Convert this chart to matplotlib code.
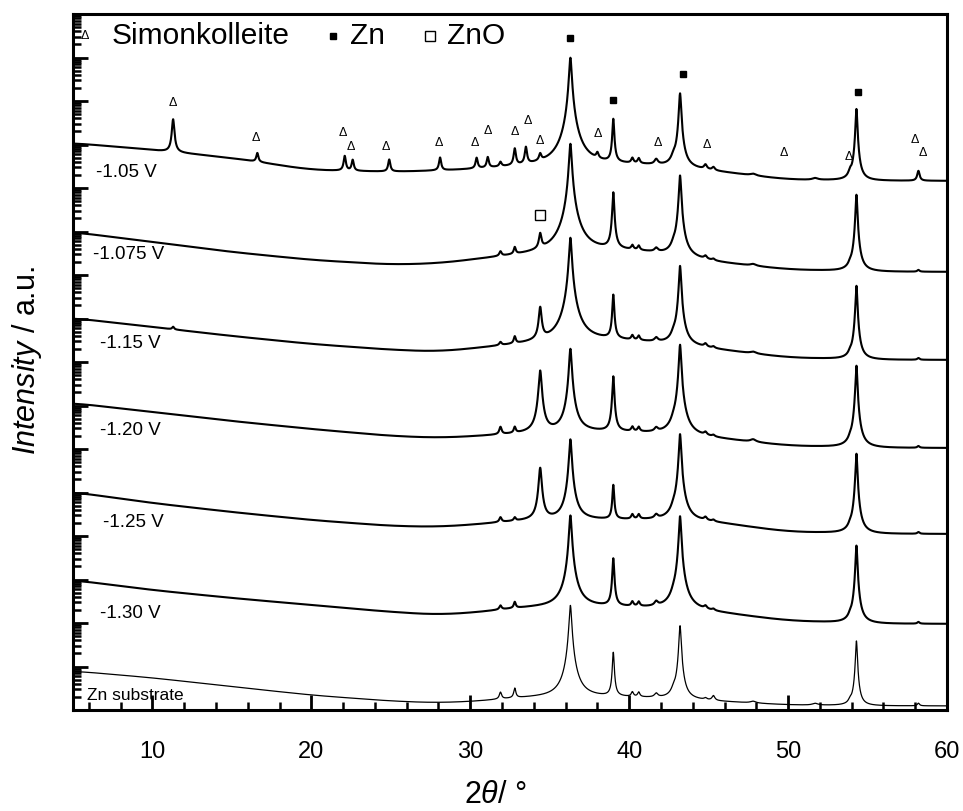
import numpy as np
import matplotlib
matplotlib.use("Agg")
import matplotlib.pyplot as plt
from matplotlib.ticker import LogLocator, MultipleLocator, NullFormatter

plt.rcParams['font.family'] = ['Liberation Sans', 'DejaVu Sans']
plt.rcParams['mathtext.fontset'] = 'custom'
plt.rcParams['mathtext.rm'] = 'Liberation Sans'
plt.rcParams['mathtext.it'] = 'Liberation Sans:italic'

# samples, top to bottom, each shifted by two decades
labels = ['-1.05 V', '-1.075 V', '-1.15 V', '-1.20 V', '-1.25 V', '-1.30 V', 'Zn substrate']
shift = [1e12, 1e10, 1e8, 1e6, 1e4, 1e2, 1e0]

# background counts read at these angles
bg_angle = [5, 10, 15, 20, 25, 28, 31, 33, 38, 41, 45, 50, 55, 60]
bg_105 = [1082, 748, 490, 259, 233, 246, 273, 304, 338, 338, 246, 153, 145, 145]
bg_1075 = [974, 574, 338, 221, 170, 179, 233, 273, 356, 338, 199, 130, 117, 117]
bg_115 = [1026, 638, 396, 259, 189, 170, 210, 246, 320, 288, 199, 124, 111, 111]
bg_120 = [1141, 709, 440, 288, 199, 179, 199, 221, 246, 233, 179, 117, 105, 105]
bg_125 = [1026, 574, 356, 233, 170, 161, 189, 221, 233, 233, 210, 124, 111, 111]
bg_130 = [974, 574, 376, 259, 179, 153, 179, 221, 233, 221, 179, 111, 95, 95]
bg_zn = [790, 550, 345, 220, 160, 145, 161, 189, 199, 189, 161, 130, 124, 124]

# reflections: position (2theta), half width, and peak/background ratio per sample
pk_pos = [11.3, 16.6, 22.1, 22.6, 24.9, 28.1, 30.4, 31.1, 31.9, 32.8, 33.5, 34.4, 36.3, 38.0,
          39.0, 40.2, 40.6, 41.7, 42.8, 43.2, 44.8, 45.3, 47.8, 51.7, 53.9, 54.3, 58.2]
pk_hw = [0.07, 0.07, 0.07, 0.07, 0.07, 0.07, 0.07, 0.07, 0.08, 0.07, 0.07, 0.08, 0.07, 0.08,
         0.05, 0.08, 0.08, 0.12, 0.15, 0.06, 0.10, 0.10, 0.20, 0.20, 0.10, 0.05, 0.08]
r_105 = [5.7, 1.6, 2.2, 1.8, 1.9, 2.0, 1.8, 1.8, 1.3, 2.6, 2.7, 1.6, 304, 1.5,
         11.4, 1.35, 1.35, 1.35, 1.5, 53, 1.3, 1.2, 1.1, 1.1, 1.4, 45, 1.7]
r_1075 = [1, 1, 1, 1, 1, 1, 1, 1, 1.3, 1.5, 1, 2.7, 320, 1,
          22.7, 1.3, 1.3, 1.25, 1.4, 77, 1.2, 1.1, 1.1, 1, 1.2, 59, 1.1]
r_115 = [1.15, 1, 1, 1, 1, 1, 1, 1, 1.2, 1.5, 1, 6.7, 246, 1,
         11.4, 1.3, 1.3, 1.25, 1.4, 69, 1.2, 1.1, 1.1, 1, 1.2, 50, 1.1]
r_120 = [1, 1, 1, 1, 1, 1, 1, 1, 1.5, 1.4, 1, 28, 85, 1,
         19.4, 1.3, 1.3, 1.25, 1.4, 124, 1.2, 1.1, 1.15, 1, 1.2, 77, 1.1]
r_125 = [1, 1, 1, 1, 1, 1, 1, 1, 1.3, 1.2, 1, 16.5, 73, 1,
         6.4, 1.3, 1.3, 1.25, 1.4, 100, 1.2, 1.1, 1, 1, 1.2, 69, 1.1]
r_130 = [1, 1, 1, 1, 1, 1, 1, 1, 1.25, 1.4, 1, 1, 130, 1,
         13.4, 1.3, 1.3, 1.3, 1.4, 145, 1.2, 1.1, 1, 1, 1.2, 62, 1.1]
r_zn = [1, 1, 1, 1, 1, 1, 1, 1, 1.45, 1.7, 1, 1, 130, 1,
        10.8, 1.3, 1.3, 1.25, 1.4, 50, 1.1, 1.3, 1.1, 1.1, 1.2, 31, 1.15]

backgrounds = [bg_105, bg_1075, bg_115, bg_120, bg_125, bg_130, bg_zn]
ratios = [r_105, r_1075, r_115, r_120, r_125, r_130, r_zn]

# phase markers (angle, height on the plot)
simon_angle = [11.3, 16.5, 22.0, 22.5, 24.7, 28.0, 30.3, 31.1, 32.8, 33.6, 34.4,
               38.0, 41.8, 44.9, 49.7, 53.8, 58.0, 58.5]
simon_y = [9.0e15, 1.41e15, 1.84e15, 8.8e14, 8.8e14, 1.08e15, 1.08e15, 2.04e15, 1.94e15,
           3.47e15, 1.2e15, 1.74e15, 1.08e15, 9.7e14, 6.4e14, 5.2e14, 1.27e15, 6.4e14]
zn_angle = [36.3, 39.0, 43.4, 54.4]
zn_y = [2.8e17, 1.05e16, 4.2e16, 1.6e16]
zno_angle = [34.4]
zno_y = [2.4e13]

# label positions
lab_x = [6.42, 6.23, 6.67, 6.67, 6.86, 6.67, 5.85]
lab_y = [2.3e14, 2.9e12, 2.7e10, 2.7e8, 2.1e6, 1.7e4, 215]
lab_size = [13.5, 13.5, 13.5, 13.5, 13.5, 13.5, 12.5]

tt = np.linspace(5, 60, 5501)
win = np.ones(301) / 301


def background(vals):
    lb = np.interp(tt, bg_angle, np.log(np.array(vals, dtype=float)))
    pad = np.concatenate([np.full(150, lb[0]), lb, np.full(150, lb[-1])])
    return np.exp(np.convolve(pad, win, mode='valid'))


fig = plt.figure(figsize=(9.63, 8.11), dpi=100)
ax = fig.add_axes([0.0758, 0.1245, 0.9076, 0.8582])

for i in range(len(labels)):
    base = background(backgrounds[i])
    y = base.copy()
    for c, w, r in zip(pk_pos, pk_hw, ratios[i]):
        if r <= 1:
            continue
        b0 = np.interp(c, tt, base)
        y += (r - 1) * b0 / (1 + ((tt - c) / w) ** 2)
    lw = 0.9 if i == len(labels) - 1 else 1.5
    ax.plot(tt, y * shift[i], color='black', lw=lw)
    ax.text(lab_x[i], lab_y[i], labels[i], fontsize=lab_size[i], ha='left', va='center')

for a, h in zip(simon_angle, simon_y):
    ax.text(a, h, 'Δ', fontsize=9, ha='center', va='center')
ax.plot(zn_angle, zn_y, 's', color='black', ms=5, ls='none')
ax.plot(zno_angle, zno_y, 's', mfc='white', mec='black', mew=1, ms=7, ls='none')

# legend row at the top
ax.text(0.0137, 0.968, 'Δ', fontsize=9, ha='center', va='center', transform=ax.transAxes)
ax.text(0.0446, 0.968, 'Simonkolleite', fontsize=21.5, ha='left', va='center', transform=ax.transAxes)
ax.plot([0.2975], [0.968], 's', color='black', ms=5, transform=ax.transAxes)
ax.text(0.317, 0.968, 'Zn', fontsize=21.5, ha='left', va='center', transform=ax.transAxes)
ax.plot([0.4085], [0.968], 's', mfc='white', mec='black', mew=1, ms=7, transform=ax.transAxes)
ax.text(0.428, 0.968, 'ZnO', fontsize=21.5, ha='left', va='center', transform=ax.transAxes)

ax.set_xlim(5, 60)
ax.set_yscale('log')
ax.set_ylim(1e2, 1e18)
ax.xaxis.set_major_locator(MultipleLocator(10))
ax.xaxis.set_minor_locator(MultipleLocator(2))
ax.yaxis.set_major_locator(LogLocator(base=10, numticks=40))
ax.yaxis.set_minor_locator(LogLocator(base=10, subs=np.arange(2, 10) * 1.0, numticks=400))
ax.yaxis.set_major_formatter(NullFormatter())
ax.yaxis.set_minor_formatter(NullFormatter())

ax.tick_params(which='both', direction='in', top=False, right=False, labelsize=17)
ax.tick_params(which='major', length=11, width=2, pad=22)
ax.tick_params(which='minor', length=6, width=1.8)
for s in ax.spines.values():
    s.set_linewidth(2.2)

fig.text(27 / 963, 1 - 360 / 811, r'$Intensity$ / a.u.', rotation=90, fontsize=22,
         ha='center', va='center')
fig.text(495 / 963, 1 - 795 / 811, r'$2\theta$/ °', fontsize=22, ha='center', va='center')

fig.savefig('out.png', dpi=100)
